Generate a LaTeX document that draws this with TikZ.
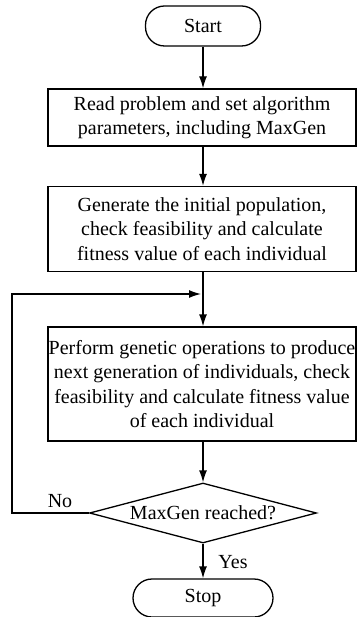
\documentclass[tikz,border=0pt]{standalone}
\usepackage{fontspec}
\setmainfont{Liberation Serif}
\usetikzlibrary{shapes.geometric,arrows.meta}
\tikzset{
	flow/.style={line width=1.3pt, -{Latex[length=12pt,width=8pt]}},
	terminal/.style={draw, line width=1.3pt, rounded corners=19pt, minimum height=40pt},
	process/.style={draw, line width=1.3pt, minimum width=308pt, align=center, inner sep=0pt},
	decision/.style={draw, line width=1.3pt, diamond, aspect=3.8, minimum width=227pt, minimum height=60pt, inner sep=0pt}
}
\begin{document}
\begin{tikzpicture}[x=1pt, y=-1pt, font=\fontsize{20}{24.5}\selectfont]
			\useasboundingbox (0,0) rectangle (357,617);
			\node[terminal, minimum width=115pt] (start) at (203,26) {Start};
			\node[process, minimum height=57pt] (read) at (202,117.5) {Read problem and set algorithm\\parameters, including MaxGen};
			\node[process, minimum height=85pt] (init) at (202,229) {Generate the initial population,\\check feasibility and calculate\\fitness value of each individual};
			\node[process, minimum height=114pt] (perform) at (202,384) {Perform genetic operations to produce\\next generation of individuals, check\\feasibility and calculate fitness value\\of each individual};
			\node[decision] (check) at (203,513) {MaxGen reached?};
			\node[terminal, minimum width=140pt, minimum height=38pt] (stop) at (203,598) {Stop};
			\foreach \a/\b in {start/read,read/init,init/perform,perform/check,check/stop}{
				\draw[flow] (\a.south -| start) -- (\b.north -| start);
			}
			\node (yes) at (233,562) {Yes};
			\coordinate (join) at (203,294);
			\draw[flow, shorten >=2pt] (check.west) -- (12,513) -- (12,294) -- (join);
			\node (no) at (60,501) {No};

		\end{tikzpicture}
\end{document}
